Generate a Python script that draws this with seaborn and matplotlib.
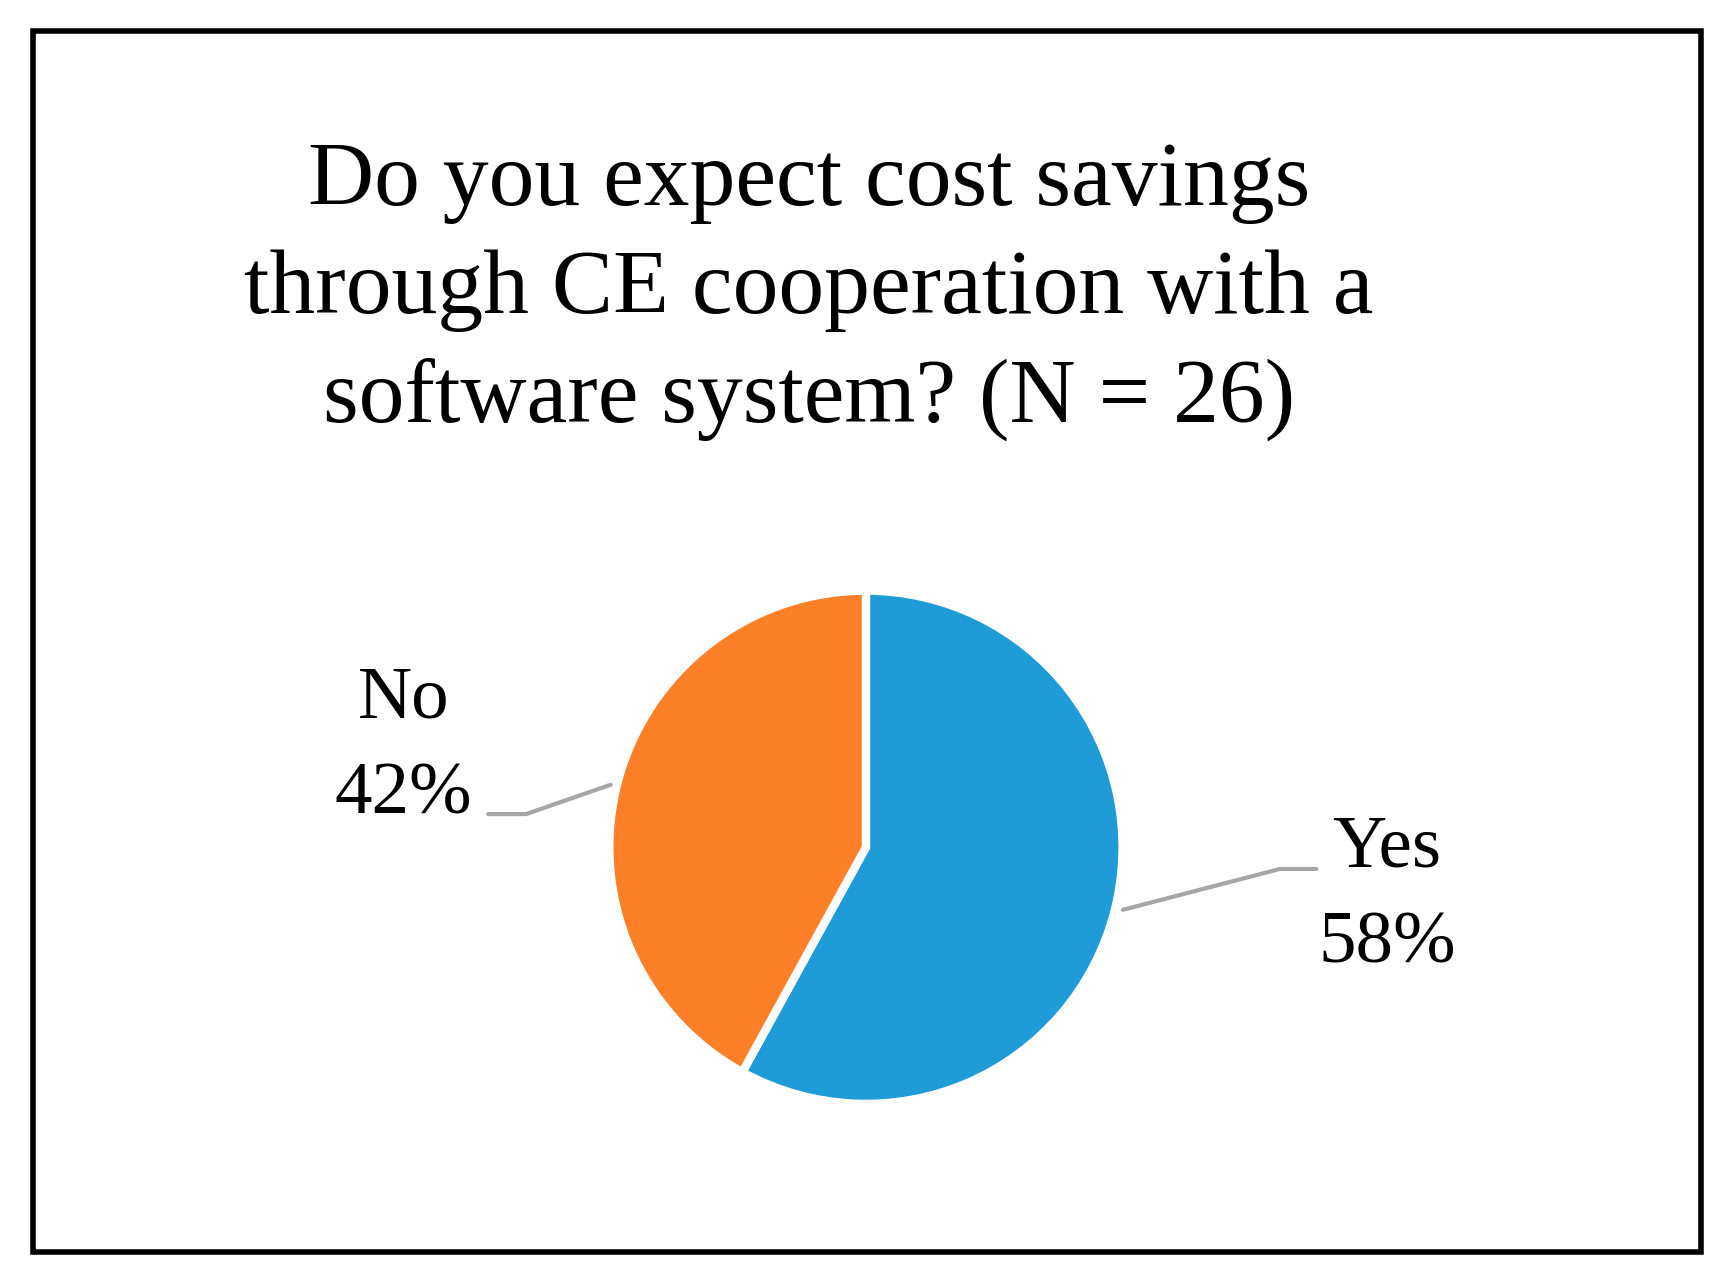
import numpy as np
import matplotlib
matplotlib.use("Agg")
import matplotlib.pyplot as plt
import seaborn as sns
from matplotlib.patches import Rectangle
from matplotlib.lines import Line2D

sns.set_style("white")
plt.rcParams['font.family'] = ['Liberation Serif', 'DejaVu Serif']
plt.rcParams['text.color'] = 'black'

categories = ["Yes", "No"]
shares = [58, 42]
colors = ["#1F9BD7", "#FD7F28"]
title = "Do you expect cost savings\nthrough CE cooperation with a\nsoftware system? (N = 26)"

fig = plt.figure(figsize=(17.25, 12.76), dpi=100)
fig.patches.append(Rectangle((0.019, 0.019), 0.967, 0.957, transform=fig.transFigure,
                             fill=False, edgecolor="black", linewidth=4))

fig.text(0.469, 0.772, title, ha="center", va="center", fontsize=66, linespacing=1.4,
         color="black")

ax = fig.add_axes([0.502 - 0.16, 0.336 - 0.2152, 0.32, 0.4304])
ax.pie(shares, colors=colors, startangle=90, counterclock=False,
       wedgeprops=dict(edgecolor="white", linewidth=6))
ax.set_xlim(-1.07, 1.07)
ax.set_ylim(-1.07, 1.07)
ax.set_aspect("equal")
ax.axis("off")

gray = "#A6A6A6"
# leader lines (figure fractions)
fig.lines.append(Line2D([0.354, 0.305, 0.283], [0.385, 0.362, 0.362], transform=fig.transFigure,
                        color=gray, linewidth=3))
fig.lines.append(Line2D([0.651, 0.742, 0.763], [0.287, 0.319, 0.319], transform=fig.transFigure,
                        color=gray, linewidth=3))

fig.text(0.234, 0.414, f"{categories[1]}\n{shares[1]}%", ha="center", va="center",
         fontsize=54, linespacing=1.55, color="black")
fig.text(0.804, 0.297, f"{categories[0]}\n{shares[0]}%", ha="center", va="center",
         fontsize=54, linespacing=1.55, color="black")

fig.savefig("out.png", dpi=100, facecolor="white")
